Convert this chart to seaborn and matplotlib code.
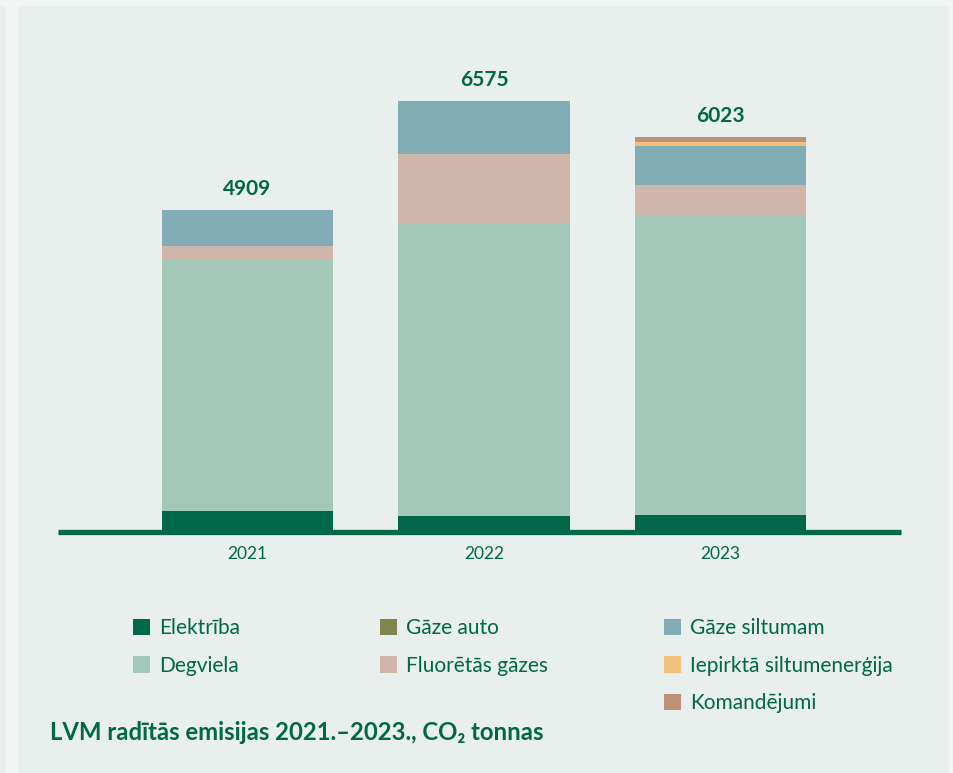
import matplotlib
matplotlib.use("Agg")
import matplotlib.pyplot as plt
from matplotlib.patches import Rectangle, Patch
import seaborn as sns
import pandas as pd
import numpy as np

years = ["2021", "2022", "2023"]
categories = ["Elektrība", "Gāze auto", "Degviela", "Fluorētās gāzes",
              "Gāze siltumam", "Iepirktā siltumenerģija", "Komandējumi"]
elektriba = [320, 244, 259]
gaze_auto = [0, 0, 0]
degviela = [3843, 4451, 4573]
fluoretas = [198, 1067, 457]
gaze_siltumam = [548, 790, 595]
iepirkta = [0, 0, 61]
komandejumi = [0, 23, 78]
title_text = "LVM radītās emisijas 2021.–2023., CO₂ tonnas"

colors = {
    "Elektrība": "#006748",
    "Gāze auto": "#7f8650",
    "Degviela": "#a3c7b8",
    "Fluorētās gāzes": "#d0b5aa",
    "Gāze siltumam": "#83adb5",
    "Iepirktā siltumenerģija": "#f2c07a",
    "Komandējumi": "#bb917a",
}
series = [elektriba, gaze_auto, degviela, fluoretas, gaze_siltumam, iepirkta, komandejumi]

TXT = "#006748"
BG = "#e8efec"
sns.set_theme(style="white")
plt.rcParams["font.family"] = ["Lato", "DejaVu Sans"]

fig = plt.figure(figsize=(9.54, 7.73), dpi=100, facecolor=BG)
W, H = 954, 773
# light frame strips
for (x0, y0, w, h) in [(0, 0, 954, 6), (6, 0, 12, 773), (949, 0, 5, 773)]:
    fig.patches.append(Rectangle((x0 / W, 1 - (y0 + h) / H), w / W, h / H,
                                 transform=fig.transFigure, facecolor="#f1f6f3",
                                 edgecolor="none", zorder=0))

ax = fig.add_axes([58 / W, (773 - 532) / H, 843 / W, 459 / H])
ax.set_facecolor(BG)

cum = np.zeros(len(years))
cums = []
for s in series:
    cum = cum + np.array(s, dtype=float)
    cums.append(cum.copy())

for cat, c in reversed(list(zip(categories, cums))):
    d = pd.DataFrame({"year": years, "value": c})
    sns.barplot(data=d, x="year", y="value", color=colors[cat], saturation=1,
                width=0.723, ax=ax, errorbar=None, linewidth=0, zorder=2)

totals = cums[-1]
for i, t in enumerate(totals):
    ax.annotate(f"{int(round(t))}", (i, t), xytext=(0, 8), textcoords="offset points",
                ha="center", va="bottom", fontsize=15, fontweight="bold", color=TXT)

ax.set_xlim(-0.801, 2.763)
ax.set_ylim(0, 7000)
ax.set_xlabel("")
ax.set_ylabel("")
ax.set_yticks([])
for sp in ["left", "right", "top"]:
    ax.spines[sp].set_visible(False)
ax.spines["bottom"].set_color(TXT)
ax.spines["bottom"].set_linewidth(3.8)
ax.spines["bottom"].set_capstyle("butt")
ax.spines["bottom"].set_zorder(3)
ax.tick_params(axis="x", length=0, pad=10, labelsize=12.5, labelcolor=TXT)

# legend in three columns, positioned individually
cols = [
    ["Elektrība", "Degviela"],
    ["Gāze auto", "Fluorētās gāzes"],
    ["Gāze siltumam", "Iepirktā siltumenerģija", "Komandējumi"],
]
xs = [133, 380, 664]
for col, x in zip(cols, xs):
    handles = [Patch(facecolor=colors[c], edgecolor="none", label=c) for c in col]
    fig.legend(handles=handles, loc="upper left",
               bbox_to_anchor=(x / W, 1 - 618 / H), frameon=False,
               fontsize=15, labelcolor=TXT, handlelength=0.82, handleheight=0.82,
               handletextpad=0.42, labelspacing=0.85, borderpad=0, borderaxespad=0)

fig.text(50 / W, 1 - 733 / H, title_text, ha="left", va="center", fontsize=17.2,
         fontweight="bold", color=TXT)

fig.savefig("out.png", dpi=100, facecolor=BG)
